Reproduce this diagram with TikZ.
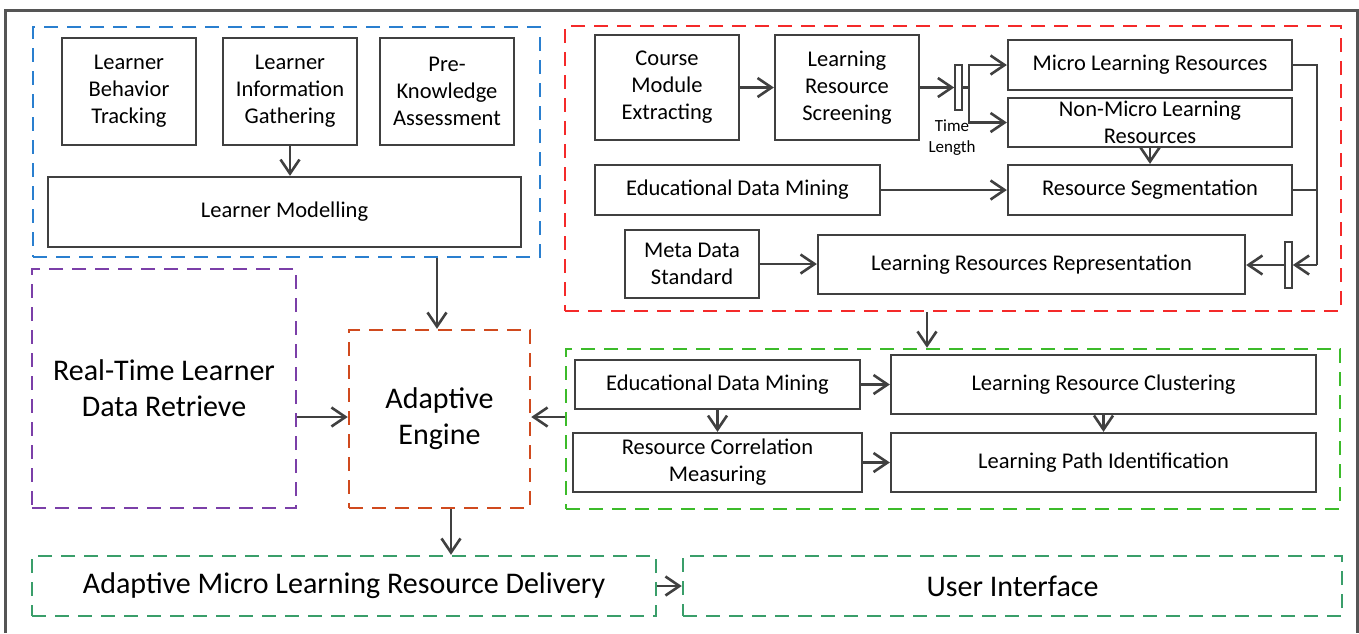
\documentclass[tikz,border=0pt]{standalone}
\usepackage{fontspec}
\setmainfont{Carlito}
\usetikzlibrary{arrows.meta}
\definecolor{boxgray}{HTML}{404040}
\definecolor{framegray}{HTML}{555555}
\definecolor{gblue}{HTML}{2A7FCF}
\definecolor{gred}{HTML}{F42A2A}
\definecolor{ggreen}{HTML}{3CBB2A}
\definecolor{gpurple}{HTML}{7B3FA8}
\definecolor{gorange}{HTML}{D04A1E}
\definecolor{gteal}{HTML}{3A9E6A}
\newcommand\bx[7]{\node[#6, minimum width={#4-#2}, minimum height={#5-#3}] (#1) at ({(#2+#4)/2},{(#3+#5)/2}) {#7};}
\tikzset{
  box/.style={draw=boxgray, line width=2.3pt, fill=white, inner sep=0pt, align=center,
    font=\fontsize{22.5}{27}\selectfont, text=black},
  grp/.style={draw=#1, line width=2.5pt, dash pattern=on 14pt off 9pt, inner sep=0pt, align=center,
    font=\fontsize{30}{36}\selectfont, text=black},
  arr/.style={draw=boxgray, line width=2.6pt, -{Straight Barb[length=14pt,width=19pt]}},
  wire/.style={draw=boxgray, line width=2.6pt},
  swbox/.style={draw=boxgray, line width=1.6pt, fill=white, inner sep=0pt},
  small/.style={font=\fontsize{17}{21}\selectfont, align=center, inner sep=0pt}
}
\begin{document}
\begin{tikzpicture}[x=1pt,y=-1pt]
\useasboundingbox (0,0) rectangle (1359,633);
\draw[framegray, line width=3pt] (5.5,633) -- (5.5,10) -- (1357,10) -- (1357,633);

% groups
\bx{blue}{33}{27}{540}{257}{grp=gblue}{}
\bx{red}{565}{26}{1341}{311}{grp=gred}{}
\bx{green}{566}{349}{1340}{509}{grp=ggreen}{}
\bx{purple}{32}{269}{296}{508}{grp=gpurple}{Real-Time Learner\\Data Retrieve}
\bx{adapt}{349}{330}{530}{508}{grp=gorange}{Adaptive\\Engine}
\bx{deliv}{32}{556}{656}{616}{grp=gteal}{Adaptive Micro Learning Resource Delivery}
\bx{ui}{683}{556}{1342}{616}{grp=gteal}{User Interface}

% learner part
\bx{lbt}{62}{38}{196}{145}{box}{Learner\\Behavior\\Tracking}
\bx{lig}{223}{38}{357}{145}{box}{Learner\\Information\\Gathering}
\bx{pka}{380}{38}{514}{145}{box}{Pre-\\Knowledge\\Assessment}
\bx{lm}{48}{177}{521}{247}{box}{Learner Modelling}

% resource part
\bx{cme}{595}{35}{739}{140}{box}{Course\\Module\\Extracting}
\bx{lrs}{775}{35}{919}{140}{box}{Learning\\Resource\\Screening}
\bx{sw1}{955}{65}{962}{110}{swbox}{}
\bx{micro}{1008}{40}{1292}{90}{box}{Micro Learning Resources}
\bx{nonmicro}{1008}{98}{1292}{147}{box}{Non-Micro Learning\\Resources}
\node[small] (tl) at (952,138) {Time\\Length};
\bx{edma}{595}{165}{880}{215}{box}{Educational Data Mining}
\bx{seg}{1008}{165}{1292}{215}{box}{Resource Segmentation}
\bx{meta}{625}{230}{759}{298}{box}{Meta Data\\Standard}
\bx{repr}{818}{235}{1245}{294}{box}{Learning Resources Representation}
\bx{sw2}{1285}{242}{1292}{288}{swbox}{}

% analysis part
\bx{edmb}{575}{360}{860}{409}{box}{Educational Data Mining}
\bx{clus}{891}{355}{1316}{414}{box}{Learning Resource Clustering}
\bx{rcm}{573}{433}{862}{492}{box}{Resource Correlation\\Measuring}
\bx{lpi}{891}{433}{1316}{492}{box}{Learning Path Identification}

% helper coordinates
\coordinate (j1) at (969,87.5);
\coordinate (bus) at (1317,265);
\coordinate (xa) at (927,0);
\coordinate (xb) at (437,0);
\coordinate (xc) at (451,0);
\coordinate (ya) at (0,417);

% connectors
\draw[arr] (lig.south) -- (lig.south |- lm.north);
\draw[arr] (cme) -- (lrs);
\draw[arr] (lrs.east) -- (sw1.west);
\draw[wire] (sw1.east) -- (j1);
\draw[arr] (j1) |- (micro.west);
\draw[arr] (j1) |- (nonmicro.west);
\draw[arr] (edma) -- (seg);
\draw[arr] (nonmicro) -- (seg);
\draw[arr] (meta.east) -- (meta.east -| repr.west);
\draw[wire] (micro.east) -| (bus);
\draw[wire] (seg.east) -| (bus);
\draw[arr] (bus) -- (sw2.east);
\draw[arr] (sw2.west) -- (sw2.west -| repr.east);
\draw[arr] (red.south -| xa) -- (green.north -| xa);
\draw[arr] (edmb) -- (clus);
\draw[arr] (edmb.south) -- (edmb.south |- rcm.north);
\draw[arr] (clus.south) -- (lpi.north);
\draw[arr] (rcm) -- (lpi);
\draw[arr] (green.west |- ya) -- (adapt.east |- ya);
\draw[arr] (purple.east |- ya) -- (adapt.west |- ya);
\draw[arr] (blue.south -| xb) -- (adapt.north -| xb);
\draw[arr] (adapt.south -| xc) -- (deliv.north -| xc);
\draw[arr] (deliv) -- (ui);
\end{tikzpicture}
\end{document}
